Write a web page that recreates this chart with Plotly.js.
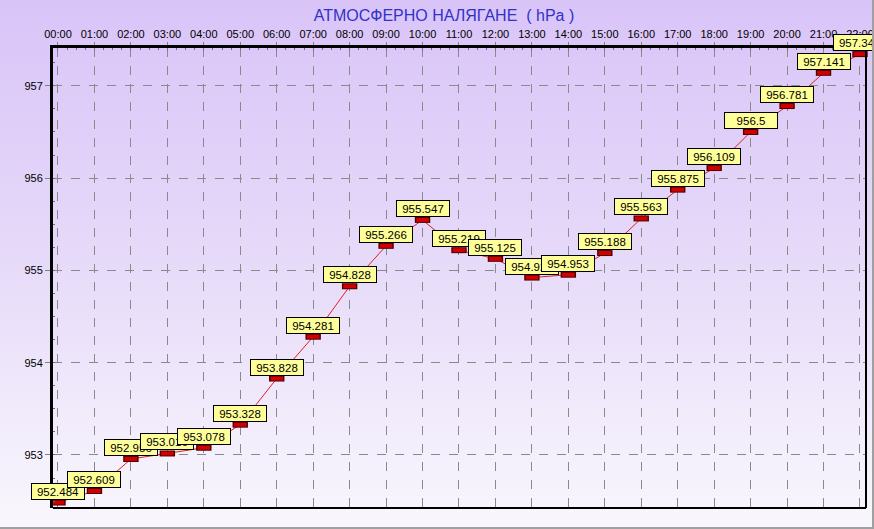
<!DOCTYPE html>
<html>
<head>
<meta charset="utf-8">
<script src="https://cdn.plot.ly/plotly-3.0.1.min.js"></script>
<style>
  html, body { margin: 0; padding: 0; }
  #wrap { position: relative; width: 874px; height: 529px;
          background: linear-gradient(to bottom, #d9c4f8 0%, #e5d8f9 45%, #f9f7fd 100%); }
  #chart { position: absolute; left: 0; top: 0; width: 874px; height: 529px; }
  #wrap::after { content: ""; position: absolute; left: 0; top: 0; width: 872px; height: 527px;
                 border-right: 2px solid #a0a0a0; border-bottom: 2px solid #a0a0a0; pointer-events: none; }
</style>
</head>
<body>
<div id="wrap"><div id="chart"></div></div>
<script>
const hours = ["00:00","01:00","02:00","03:00","04:00","05:00","06:00","07:00","08:00","09:00","10:00","11:00",
               "12:00","13:00","14:00","15:00","16:00","17:00","18:00","19:00","20:00","21:00","22:00"];
const pressure = [952.484, 952.609, 952.956, 953.016, 953.078, 953.328, 953.828, 954.281, 954.828, 955.266, 955.547, 955.219,
                  955.125, 954.922, 954.953, 955.188, 955.563, 955.875, 956.109, 956.5, 956.781, 957.141, 957.344];
const yTicks = [953, 954, 955, 956, 957];

const xIdx = hours.map((h, i) => i);
const FONT = "Liberation Sans, Arial, sans-serif";

const traces = [
  { x: xIdx, y: pressure, type: "scatter", mode: "lines",
    line: { color: "#e02020", width: 1 }, hoverinfo: "skip", cliponaxis: false },
  { x: xIdx, y: pressure, type: "scatter", mode: "markers", cliponaxis: false,
    marker: { symbol: "line-ew", size: 11, line: { color: "#500000", width: 6 } }, hoverinfo: "skip" },
  { x: xIdx, y: pressure, type: "scatter", mode: "markers", cliponaxis: false,
    marker: { symbol: "line-ew", size: 9, line: { color: "#d00000", width: 4 } }, hoverinfo: "skip" }
];

const annotations = pressure.map((v, i) => ({
  x: i, y: v, xref: "x", yref: "y", text: String(v), showarrow: false,
  xanchor: "center", yanchor: "bottom", yshift: 3,
  bgcolor: "#ffff99", bordercolor: "#000000", borderwidth: 1, borderpad: 1,
  width: 50, height: 13, font: { family: FONT, size: 11.5, color: "#000000" }
}));

const layout = {
  width: 874, height: 529,
  margin: { l: 53, r: 8, t: 48, b: 21, pad: 0 },
  paper_bgcolor: "rgba(0,0,0,0)", plot_bgcolor: "rgba(0,0,0,0)",
  showlegend: false,
  title: { text: "АТМОСФЕРНО НАЛЯГАНЕ  ( hPa )", font: { family: FONT, size: 16, color: "#3232c8" },
           xref: "container", yref: "container", x: 0.508, y: 0.971, xanchor: "center", yanchor: "middle" },
  xaxis: {
    side: "top", range: [-0.137, 22.165], tickmode: "array", tickvals: xIdx, ticktext: hours,
    showline: true, linecolor: "#000000", linewidth: 3, mirror: false,
    ticks: "outside", ticklen: 3, tickcolor: "#808080", tickwidth: 1,
    showgrid: true, gridcolor: "#8a8a8a", griddash: "dash", gridwidth: 1, zeroline: false,
    tickfont: { family: FONT, size: 11, color: "#000000" },
    minor: { dtick: 0.25, tick0: 0, ticks: "inside", ticklen: 2, tickcolor: "#707070", showgrid: false }
  },
  yaxis: {
    range: [952.425, 957.41], tickmode: "array", tickvals: yTicks, ticktext: yTicks.map(String),
    showline: true, linecolor: "#000000", linewidth: 3, mirror: false,
    ticks: "outside", ticklen: 5, tickcolor: "#808080", tickwidth: 1,
    showgrid: true, gridcolor: "#8a8a8a", griddash: "dash", gridwidth: 1, zeroline: false,
    tickfont: { family: FONT, size: 11, color: "#000000" },
    minor: { dtick: 0.25, tick0: 953, ticks: "inside", ticklen: 2, tickcolor: "#707070", showgrid: false }
  },
  shapes: [
    { type: "line", xref: "paper", yref: "paper", x0: 0, x1: 1, y0: 0, y1: 0, line: { color: "#000000", width: 2 } },
    { type: "line", xref: "paper", yref: "paper", x0: 1, x1: 1, y0: 0, y1: 1, line: { color: "#000000", width: 2 } }
  ],
  annotations: annotations
};

Plotly.newPlot("chart", traces, layout, { displayModeBar: false, staticPlot: true });
</script>
</body>
</html>
